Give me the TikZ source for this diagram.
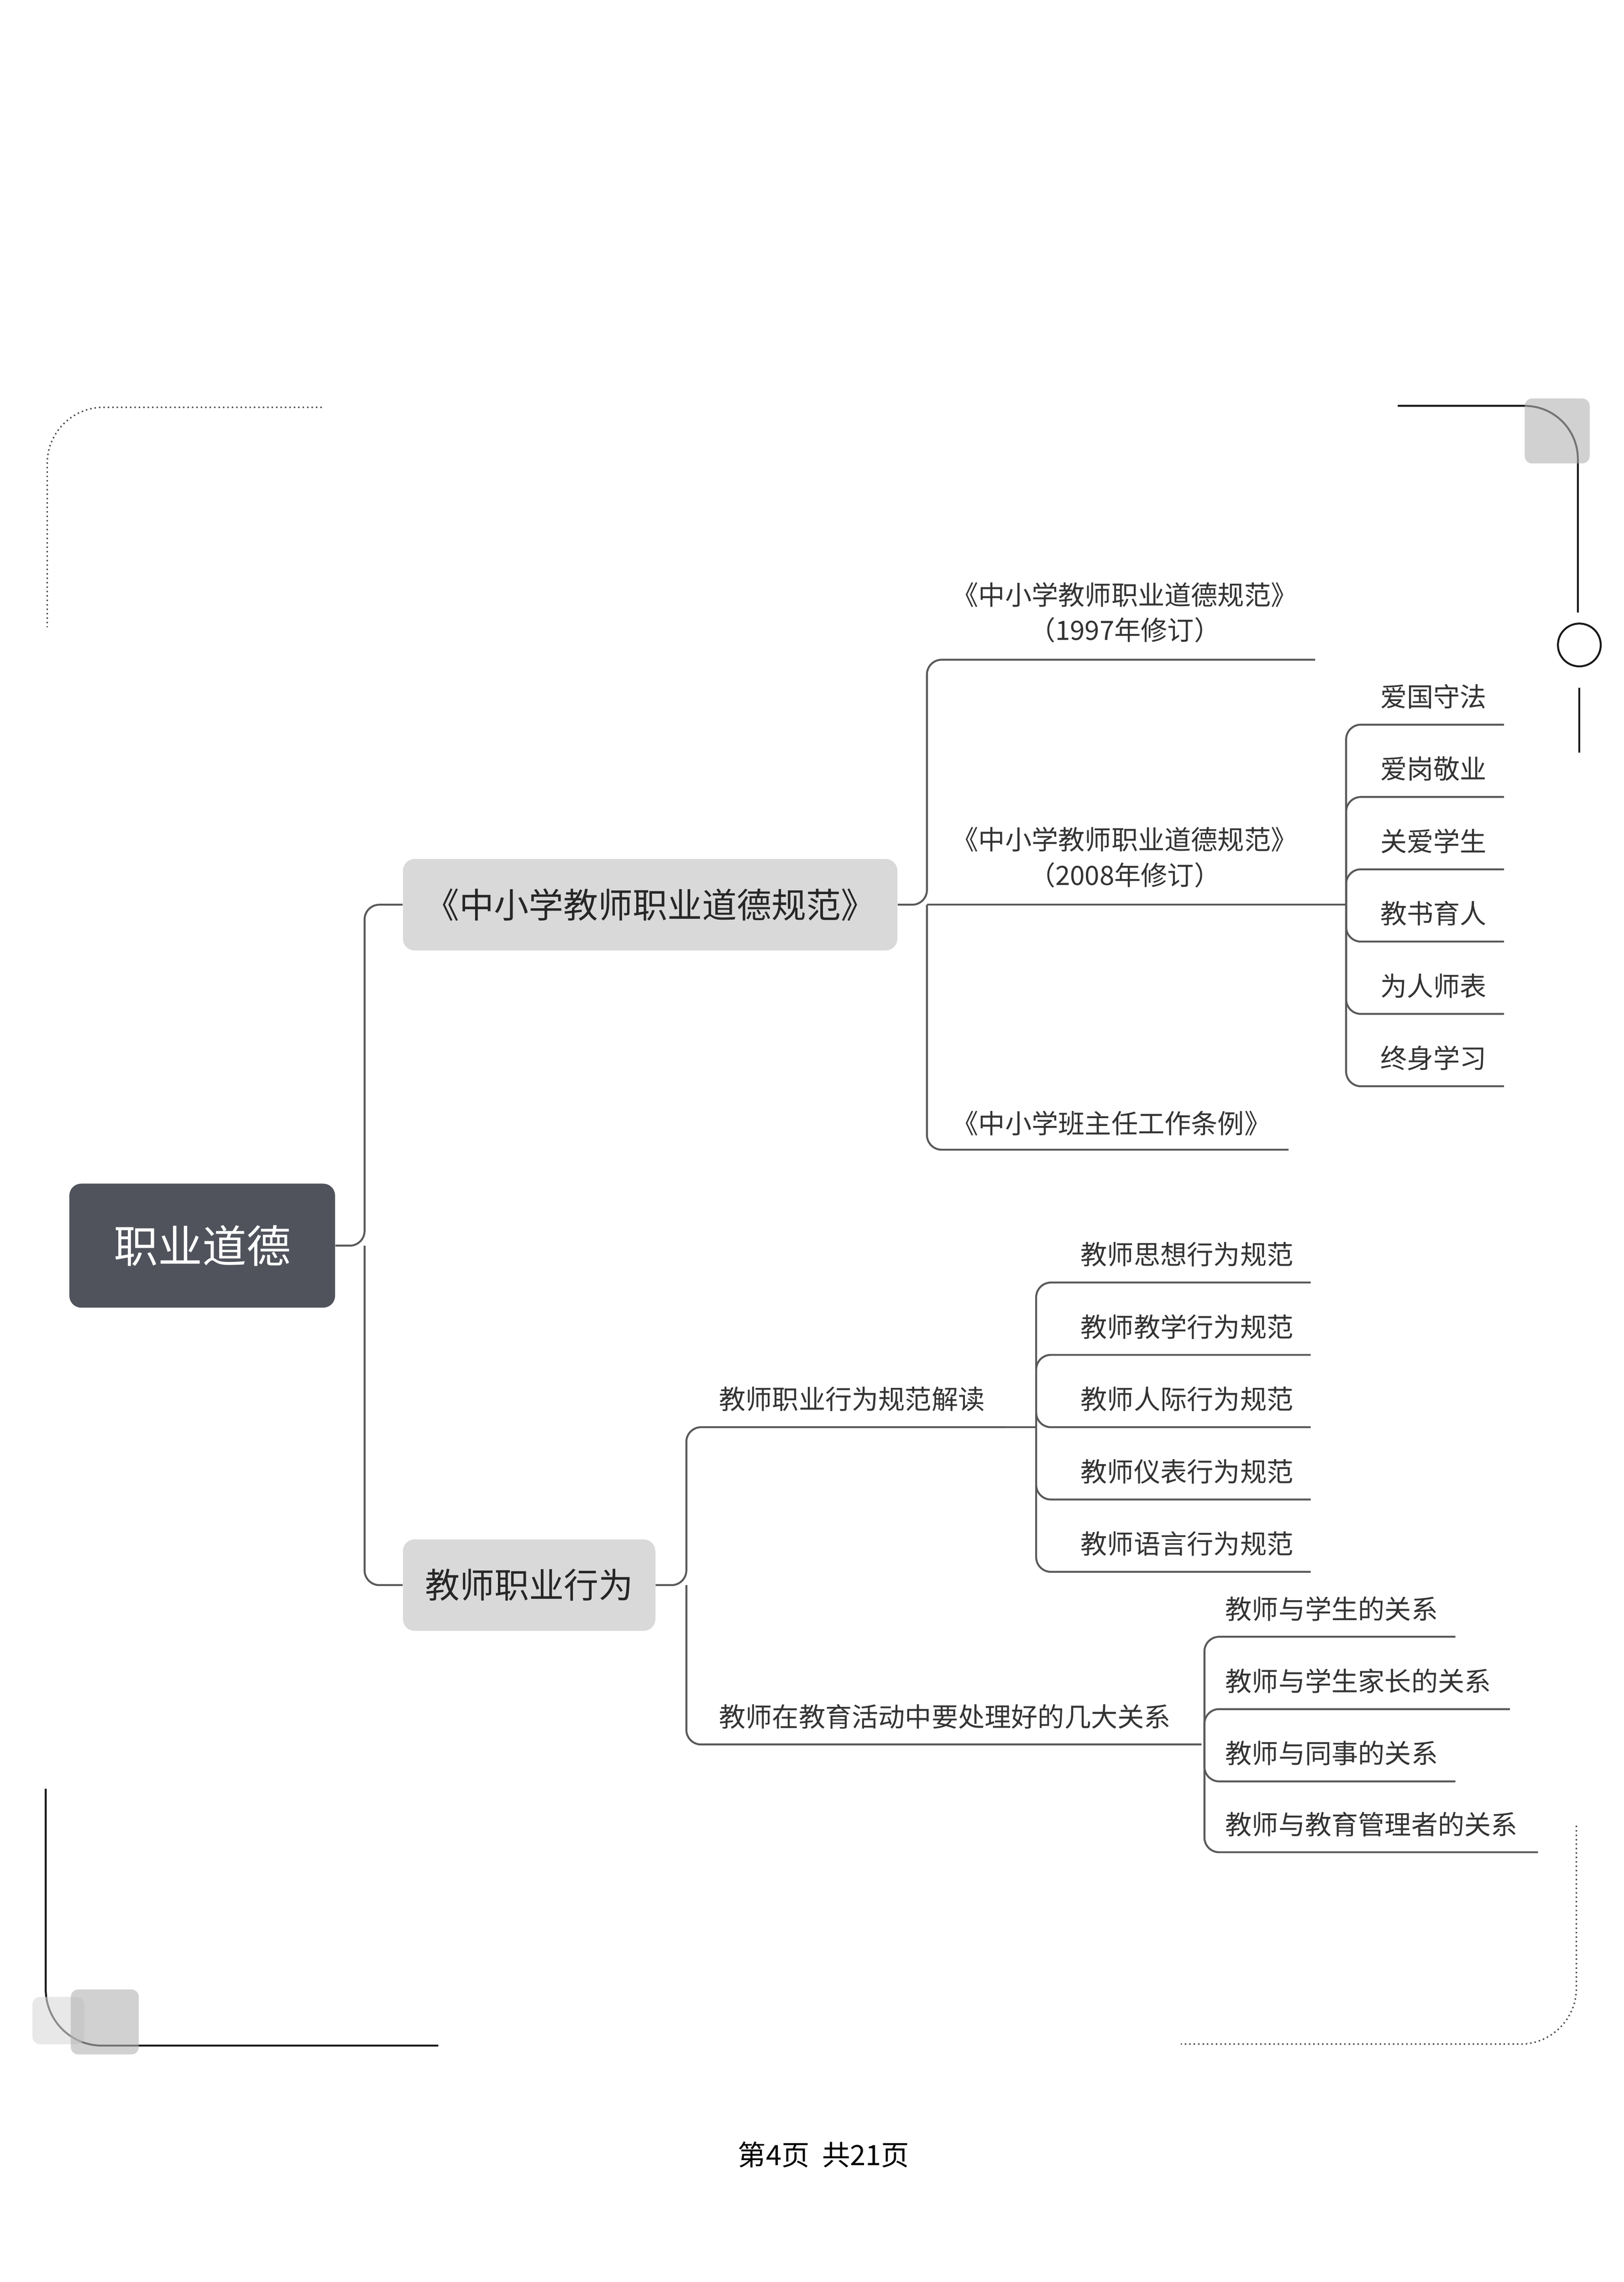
\documentclass[tikz,border=0pt]{standalone}
\usepackage{fontspec}
\setmainfont{Noto Sans CJK SC}
\definecolor{rootc}{HTML}{50535C}
\begin{document}
\begin{tikzpicture}[x=1pt,y=-1pt,
  conn/.style={draw=black!65,line width=1.3pt,rounded corners=10pt},
  leaf/.style={font=\fontsize{18}{24}\selectfont,text=black!80,inner sep=0pt},
  mid/.style={rounded corners=8pt,fill=black!15,inner sep=0pt,minimum height=62pt,font=\fontsize{23.5}{28}\selectfont,text=black!85},
  frame/.style={line width=1.3pt,black!90},
  dframe/.style={line width=1pt,black!70,dotted}]
\useasboundingbox (0,0) rectangle (1100,1546.2);
% decorations
\draw[dframe,rounded corners=38pt] (218,276) -- (32,276) -- (32,425);
\draw[frame,rounded corners=36pt] (947,275) -- (1069,275) -- (1069,415);
\fill[black!30,rounded corners=5pt,opacity=.6] (1033,270) rectangle (1077,314);
\draw[frame] (1070,437) circle[radius=14.5];
\draw[frame] (1070,466) -- (1070,510);
\draw[frame,rounded corners=38pt] (31,1212) -- (31,1386) -- (297,1386);
\fill[black!15,rounded corners=5pt,opacity=.6] (22,1353) rectangle (57,1385);
\fill[black!30,rounded corners=5pt,opacity=.6] (48,1348) rectangle (94,1392);
\draw[dframe,rounded corners=38pt] (1068,1237) -- (1068,1385) -- (800,1385);
\node (foot) at (558,1460) {\fontsize{19}{22}\selectfont 第4页\ \ 共21页};
% root and main nodes
\node[rounded corners=8pt,fill=rootc,minimum width=180pt,minimum height=84pt,inner sep=0pt,text=white,font=\fontsize{30}{34}\selectfont] (root) at (137,844) {职业道德};
\node[mid,minimum width=335pt] (A) at (440.5,613) {《中小学教师职业道德规范》};
\node[mid,minimum width=171pt] (B) at (358.5,1074) {教师职业行为};
\coordinate (Rj) at (247,844);
\draw[conn] (root.east) -- (Rj) |- (A.west);
\draw[conn] (Rj) |- (B.west);
% A branch
\coordinate (Aj) at (628,613);
\coordinate (A1e) at (891,447);
\coordinate (A2e) at (891,613);
\coordinate (A3e) at (873,779);
\node[leaf,align=center] (A1) at (762,415) {《中小学教师职业道德规范》\\（1997年修订）};
\node[leaf,align=center] (A2) at (762,581) {《中小学教师职业道德规范》\\（2008年修订）};
\node[leaf] (A3) at (753,761) {《中小学班主任工作条例》};
\draw[conn] (A.east) -- (Aj) |- (A1e);
\draw[conn] (Aj) -- (A2e);
\draw[conn] (Aj) |- (A3e);
% A2 children
\coordinate (A2j) at (912,613);
\draw[conn] (A2e) -- (A2j);
\foreach \y/\t/\n in {491/爱国守法/c1,540/爱岗敬业/c2,589/关爱学生/c3,638/教书育人/c4,687/为人师表/c5,736/终身学习/c6}{
  \node[leaf,anchor=west] (\n) at (935,\y-19) {\t};
  \coordinate (\n e) at (1019,\y);
  \draw[conn] (A2j) |- (\n e);
}
% B branch
\coordinate (Bj) at (465,1074);
\coordinate (B1e) at (681,967);
\coordinate (B2e) at (814,1182);
\node[leaf,anchor=west] (B1) at (487,948) {教师职业行为规范解读};
\node[leaf,anchor=west] (B2) at (487,1163) {教师在教育活动中要处理好的几大关系};
\draw[conn] (B.east) -- (Bj) |- (B1e);
\draw[conn] (Bj) |- (B2e);
\coordinate (B1j) at (702,967);
\draw[conn] (B1e) -- (B1j);
\foreach \y/\t/\n in {869/教师思想行为规范/d1,918/教师教学行为规范/d2,967/教师人际行为规范/d3,1016/教师仪表行为规范/d4,1065/教师语言行为规范/d5}{
  \node[leaf,anchor=west] (\n) at (732,\y-19) {\t};
  \coordinate (\n e) at (888,\y);
  \draw[conn] (B1j) |- (\n e);
}
\coordinate (B2j) at (816,1182);
\foreach \y/\t/\n/\e in {1109/教师与学生的关系/f1/986,1158/教师与学生家长的关系/f2/1023,1207/教师与同事的关系/f3/986,1255/教师与教育管理者的关系/f4/1042}{
  \node[leaf,anchor=west] (\n) at (830,\y-19) {\t};
  \coordinate (\n e) at (\e,\y);
  \draw[conn] (B2j) |- (\n e);
}
\end{tikzpicture}
\end{document}
